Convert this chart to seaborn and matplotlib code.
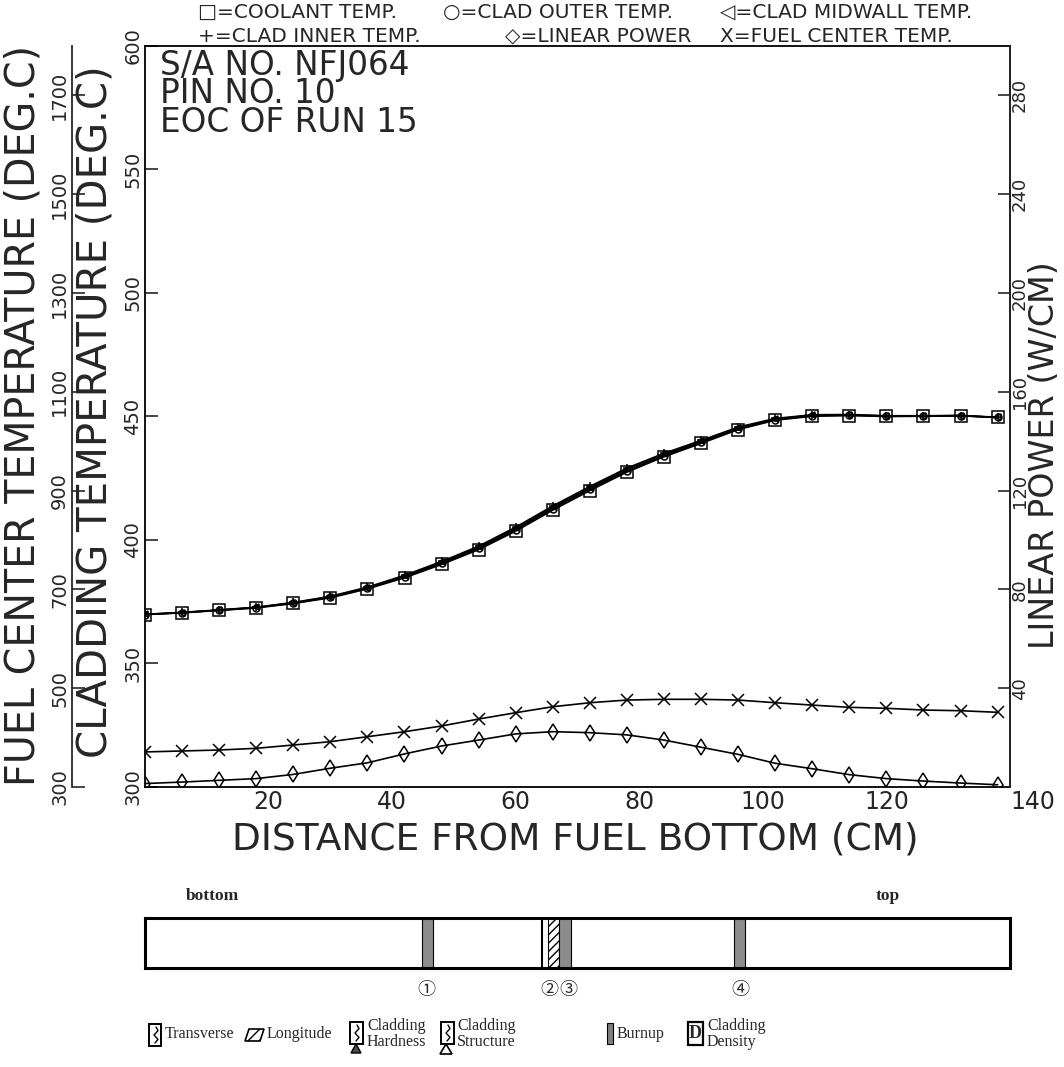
import numpy as np
import pandas as pd
import matplotlib
matplotlib.use('Agg')
import matplotlib.pyplot as plt
from matplotlib.patches import Rectangle, Polygon
import seaborn as sns

# ---- values ----
distance_cm = [0, 6, 12, 18, 24, 30, 36, 42, 48, 54, 60, 66,
               72, 78, 84, 90, 96, 102, 108, 114, 120, 126, 132, 138]
coolant_temp = [369.8, 370.5, 371.5, 372.5, 374.3, 376.6, 380.2, 384.7, 390.1, 396.1, 403.6, 412.1,
                420.0, 427.5, 433.7, 439.1, 444.7, 448.5, 450.1, 450.4, 450.0, 450.1, 450.3, 449.6]
clad_outer_temp = [369.8, 370.6, 371.6, 372.6, 374.4, 376.8, 380.5, 385.0, 390.5, 396.6, 404.1, 412.7,
                   420.6, 428.0, 434.2, 439.5, 445.0, 448.7, 450.3, 450.5, 450.1, 450.2, 450.3, 449.6]
clad_mid_temp = [369.9, 370.6, 371.6, 372.7, 374.6, 377.0, 380.7, 385.4, 390.9, 397.1, 404.7, 413.2,
                 421.1, 428.6, 434.7, 439.9, 445.4, 449.0, 450.5, 450.7, 450.2, 450.2, 450.4, 449.6]
clad_inner_temp = [369.9, 370.7, 371.7, 372.8, 374.7, 377.2, 380.9, 385.7, 391.3, 397.5, 405.2, 413.8,
                   421.7, 429.1, 435.1, 440.3, 445.7, 449.2, 450.7, 450.8, 450.3, 450.3, 450.4, 449.7]
fuel_center_temp = [371.0, 372.9, 374.9, 378.3, 385.0, 391.7, 401.8, 411.9, 423.5, 437.6, 450.4, 462.5,
                    470.6, 476.0, 477.5, 477.5, 476.0, 470.6, 465.8, 461.3, 459.3, 455.8, 454.4, 451.2]
linear_power = [1.4, 2.0, 2.7, 3.4, 5.1, 7.6, 9.8, 13.4, 16.6, 19.0, 21.5, 22.4,
                22.0, 21.1, 19.0, 16.1, 13.2, 9.6, 7.4, 5.0, 3.4, 2.4, 1.6, 0.9]

x_ticks = [0, 20, 40, 60, 80, 100, 120, 140]
clad_ticks = [300, 350, 400, 450, 500, 550, 600]
fuel_ticks = [300, 500, 700, 900, 1100, 1300, 1500, 1700]
power_ticks = [40, 80, 120, 160, 200, 240, 280]

run_info = ['S/A NO. NFJ064', 'PIN NO. 10', 'EOC OF RUN 15']

# specimen cut positions on the pin (cm from fuel bottom)
specimen_labels = ['①', '②', '③', '④']
specimen_start = [44.8, 65.2, 67.0, 95.3]
specimen_end = [46.6, 67.0, 68.9, 97.1]
specimen_label_x = [45.6, 65.5, 68.6, 96.3]
cut_line_x = [64.2]

legend_names = ['Transverse', 'Longitude', 'Cladding\nHardness', 'Cladding\nStructure',
                'Burnup', 'Cladding\nDensity']

df = pd.DataFrame({
    'distance': distance_cm,
    'coolant': coolant_temp,
    'outer': clad_outer_temp,
    'mid': clad_mid_temp,
    'inner': clad_inner_temp,
    'fuel': fuel_center_temp,
    'power': linear_power,
})

sns.set_style('white')
plt.rcParams['font.family'] = ['DejaVu Sans']

W, H = 1064, 1067
def fx(px):
    return px / W
def fy(py):
    return 1 - py / H

fig = plt.figure(figsize=(W / 100, H / 100), dpi=100)

# main axes: cladding temperature (plot box 145..1010 x 46..787 px)
ax = fig.add_axes([fx(145), fy(787), 865 / W, 741 / H])
ax_fuel = ax.twinx()
ax_pow = ax.twinx()

line_kw = dict(color='black', linewidth=1.2, markeredgecolor='black',
               markerfacecolor='none', markeredgewidth=1.1, legend=False)

sns.lineplot(data=df, x='distance', y='coolant', ax=ax, marker='s', markersize=8, **line_kw)
sns.lineplot(data=df, x='distance', y='outer', ax=ax, marker='o', markersize=5, **line_kw)
sns.lineplot(data=df, x='distance', y='mid', ax=ax, marker='<', markersize=5, **line_kw)
sns.lineplot(data=df, x='distance', y='inner', ax=ax, marker='+', markersize=6, **line_kw)
sns.lineplot(data=df, x='distance', y='fuel', ax=ax_fuel, marker='x', markersize=8, **line_kw)
sns.lineplot(data=df, x='distance', y='power', ax=ax_pow, marker='d', markersize=8, **line_kw)

ax.set_xlim(0, 140)
ax.set_ylim(300, 600)
ax_fuel.set_ylim(300, 1800)
ax_pow.set_ylim(0, 300)

for a in (ax, ax_fuel, ax_pow):
    a.set_xlabel('')
    a.set_ylabel('')

# x axis
ax.set_xticks(x_ticks)
ax.set_xticklabels(['' if v == 0 else str(v) for v in x_ticks])
ax.tick_params(axis='x', direction='in', length=9, width=1.2, labelsize=17, pad=2)
ax.get_xticklabels()[-1].set_ha('left')

# inner left axis (cladding)
ax.set_yticks(clad_ticks)
ax.tick_params(axis='y', direction='in', length=9, width=1.2, labelsize=14, pad=2)
for lab in ax.get_yticklabels():
    lab.set_rotation(90)
    lab.set_va('center')
for s in ax.spines.values():
    s.set_linewidth(1.3)
    s.set_color('black')

# outer left axis (fuel center)
ax_fuel.yaxis.set_ticks_position('left')
ax_fuel.spines['left'].set_visible(True)
ax_fuel.spines['left'].set_position(('axes', -73 / 865))
ax_fuel.spines['left'].set_linewidth(1.3)
for side in ('right', 'top', 'bottom'):
    ax_fuel.spines[side].set_visible(False)
ax_fuel.set_yticks(fuel_ticks)
ax_fuel.tick_params(axis='y', direction='in', length=9, width=1.2, labelsize=14, pad=2)
for lab in ax_fuel.get_yticklabels():
    lab.set_rotation(90)
    lab.set_va('center')

# right axis (linear power)
for side in ('left', 'top', 'bottom'):
    ax_pow.spines[side].set_visible(False)
ax_pow.spines['right'].set_linewidth(1.3)
ax_pow.set_yticks(power_ticks)
ax_pow.tick_params(axis='y', direction='in', length=9, width=1.2, labelsize=13, pad=0.5)
for lab in ax_pow.get_yticklabels():
    lab.set_rotation(90)
    lab.set_va('center')

# axis titles
fig.text(fx(23.5), fy(416), 'FUEL CENTER TEMPERATURE (DEG.C)', rotation=90,
         ha='center', va='center', fontsize=28.5)
fig.text(fx(95.5), fy(412), 'CLADDING TEMPERATURE (DEG.C)', rotation=90,
         ha='center', va='center', fontsize=29)
fig.text(fx(1044), fy(455), 'LINEAR POWER (W/CM)', rotation=90,
         ha='center', va='center', fontsize=24)
fig.text(fx(575), fy(839.5), 'DISTANCE FROM FUEL BOTTOM (CM)',
         ha='center', va='center', fontsize=27)

# run info inside the frame (one block of three lines)
fig.text(fx(160), fy(49), '\n'.join(run_info), ha='left', va='top',
         fontsize=23.5, linespacing=0.82)

# symbol key above the frame
key_font = dict(fontsize=14.5, va='center', ha='left')
fig.text(fx(198), fy(12.5), '□=COOLANT TEMP.', **key_font)
fig.text(fx(443), fy(12.5), '○=CLAD OUTER TEMP.', **key_font)
fig.text(fx(720), fy(12.5), '◁=CLAD MIDWALL TEMP.', **key_font)
fig.text(fx(198), fy(36), '+=CLAD INNER TEMP.', **key_font)
fig.text(fx(505), fy(36), '◇=LINEAR POWER', **key_font)
fig.text(fx(720), fy(36), 'X=FUEL CENTER TEMP.', **key_font)

# ---- pin sketch with specimen positions ----
ax_bar = fig.add_axes([fx(145), fy(968), 865 / W, 50 / H])
ax_bar.set_xlim(0, 140)
ax_bar.set_ylim(0, 1)
ax_bar.set_xticks([])
ax_bar.set_yticks([])
for s in ax_bar.spines.values():
    s.set_linewidth(2.2)
    s.set_color('black')
stripe_fill = ['0.55', 'white', '0.55', '0.55']
stripe_hatch = ['', '////', '', '']
for s0, s1, fc, h in zip(specimen_start, specimen_end, stripe_fill, stripe_hatch):
    ax_bar.axvspan(s0, s1, facecolor=fc, hatch=h, edgecolor='black', linewidth=0.8)
for xc in cut_line_x:
    ax_bar.axvline(xc, color='black', linewidth=1.5)
for lab, xl in zip(specimen_labels, specimen_label_x):
    ax_bar.text(xl, -0.45, lab, transform=ax_bar.get_xaxis_transform(),
                ha='center', va='center', fontsize=13,
                family=['Noto Sans CJK JP', 'DejaVu Sans'])

# ---- overlay for the lower legend (pixel coords) ----
ov = fig.add_axes([0, 0, 1, 1])
ov.set_xlim(0, W)
ov.set_ylim(H, 0)
ov.axis('off')
ov.patch.set_alpha(0)

serif = ['Liberation Serif', 'DejaVu Serif']
ov.text(212, 896, 'bottom', ha='center', va='center', fontsize=12.5,
        fontweight='bold', family=serif)
ov.text(888, 896, 'top', ha='center', va='center', fontsize=12.5,
        fontweight='bold', family=serif)

def zigzag(x0, y0, h):
    ov.plot([x0 + 7, x0 + 9, x0 + 5, x0 + 9, x0 + 6],
            [y0 + 3, y0 + h * 0.3, y0 + h * 0.5, y0 + h * 0.7, y0 + h - 3],
            color='black', lw=1)

# Transverse
ov.add_patch(Rectangle((149, 1024), 12, 22, fill=False, edgecolor='black', lw=1.4))
zigzag(149, 1024, 22)
# Longitude
ov.add_patch(Polygon([(245, 1041), (249, 1029), (264, 1029), (260, 1041)],
                     closed=True, facecolor='white', edgecolor='black', hatch='///', lw=1.2))
# Cladding hardness
ov.add_patch(Rectangle((350, 1022), 13, 22, fill=False, edgecolor='black', lw=1.4))
zigzag(350, 1022, 22)
ov.add_patch(Polygon([(351, 1053), (356, 1044), (361, 1053)], closed=True,
                     facecolor='0.3', edgecolor='black', lw=1))
# Cladding structure
ov.add_patch(Rectangle((441, 1022), 13, 22, fill=False, edgecolor='black', lw=1.4))
zigzag(441, 1022, 22)
ov.add_patch(Polygon([(440, 1054), (446, 1044), (452, 1054)], closed=True,
                     facecolor='white', edgecolor='black', lw=1.2))
# Burnup
ov.add_patch(Rectangle((607, 1023), 6, 21, facecolor='0.5', edgecolor='black', lw=0.8))
# Cladding density
ov.add_patch(Rectangle((688, 1022), 15, 23, fill=False, edgecolor='black', lw=1.6))
ov.text(695.5, 1034, 'D', ha='center', va='center', fontsize=13, fontweight='bold', family=serif)

legend_x = [165, 267, 367, 457, 617, 707]
for name, lx in zip(legend_names, legend_x):
    ov.text(lx, 1034, name, ha='left', va='center', fontsize=11.5,
            family=serif, linespacing=0.95)

fig.savefig('out.png', dpi=100)
